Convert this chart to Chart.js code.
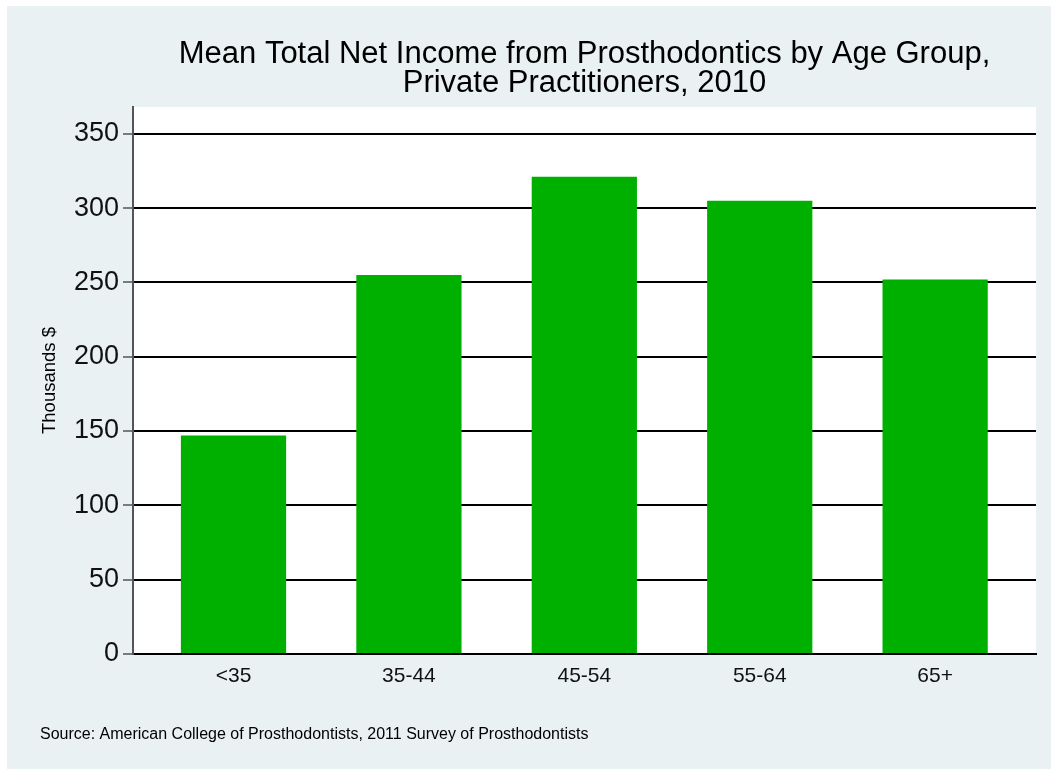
<!DOCTYPE html>
<html>
<head>
<meta charset="utf-8">
<script src="https://cdn.jsdelivr.net/npm/chart.js@4.4.0/dist/chart.umd.min.js"></script>
<style>
  html, body { margin: 0; background: #e9f1f3; }
  #incomeChart { position: absolute; left: 7px; top: 6px; }
  .edgeTop { position: absolute; left: 0; top: 0; width: 1051px; height: 6px; background: #fff; }
  .edgeLeft { position: absolute; left: 0; top: 0; width: 7px; height: 769px; background: #fff; }
</style>
</head>
<body>
<div class="edgeTop"></div>
<div class="edgeLeft"></div>
<canvas id="incomeChart" width="1044" height="763"></canvas>
<script>
const ageGroups = ['<35', '35-44', '45-54', '55-64', '65+'];
const meanIncome = [147, 255, 321, 305, 252];
const yTicks = [0, 50, 100, 150, 200, 250, 300, 350];
const titleLines = ['Mean Total Net Income from Prosthodontics by Age Group,', 'Private Practitioners, 2010'];
const yLabel = 'Thousands $';
const sourceNote = 'Source: American College of Prosthodontists, 2011 Survey of Prosthodontists';

const FONT = "'Liberation Sans', Arial, Helvetica, sans-serif";

// light blue graph region, white plot region
const backgroundPlugin = {
  id: 'backgrounds',
  beforeDraw(chart) {
    const ctx = chart.ctx;
    const a = chart.chartArea;
    ctx.save();
    ctx.fillStyle = '#e9f1f3';
    ctx.fillRect(0, 0, chart.width, chart.height);
    ctx.fillStyle = '#ffffff';
    ctx.fillRect(a.left, a.top, a.right - a.left, a.bottom - a.top);
    ctx.restore();
  }
};

new Chart(document.getElementById('incomeChart'), {
  type: 'bar',
  data: {
    datasets: [{
      label: 'Mean income',
      data: meanIncome.map((v, i) => ({x: i, y: v})),
      backgroundColor: 'rgb(0,176,0)',
      borderWidth: 0,
      barPercentage: 0.6,
      categoryPercentage: 1.0
    }]
  },
  options: {
    responsive: false,
    animation: false,
    devicePixelRatio: 1,
    layout: {padding: {left: 33, right: 15, top: 0, bottom: 0}},
    plugins: {
      legend: {display: false},
      tooltip: {enabled: false},
      title: {
        display: true,
        text: titleLines,
        fullSize: false,
        color: '#000',
        font: {family: FONT, size: 31, weight: 'normal', lineHeight: '29px'},
        padding: {top: 33.5, bottom: 9.5}
      },
      subtitle: {
        display: true,
        text: sourceNote,
        position: 'bottom',
        align: 'start',
        fullSize: true,
        color: '#000',
        font: {family: FONT, size: 16, weight: 'normal', lineHeight: '18px'},
        padding: {top: 32, bottom: 25}
      }
    },
    scales: {
      x: {
        type: 'linear',
        offset: false,
        min: -0.573,
        max: 4.575,
        afterBuildTicks: s => { s.ticks = ageGroups.map((g, i) => ({value: i})); },
        afterFit: s => { s.height = 40; },
        grid: {display: false, drawTicks: false},
        border: {display: true, color: '#000', width: 2},
        ticks: {
          callback: v => ageGroups[v],
          color: '#111',
          font: {family: FONT, size: 21},
          padding: 10,
          maxRotation: 0,
          autoSkip: false
        }
      },
      y: {
        min: 0,
        max: 368,
        afterBuildTicks: s => { s.ticks = yTicks.map(v => ({value: v})); },
        afterFit: s => { s.width = 93; },
        grid: {color: '#000', lineWidth: 2, tickLength: 10, tickColor: '#555', tickWidth: 1.5},
        border: {display: true, color: '#555', width: 2},
        ticks: {
          color: '#111',
          font: {family: FONT, size: 27},
          padding: 4
        },
        title: {
          display: true,
          text: yLabel,
          color: '#000',
          font: {family: FONT, size: 18.5, lineHeight: 1},
          padding: {top: 0.25, bottom: 0}
        }
      }
    }
  },
  plugins: [backgroundPlugin]
});
</script>
</body>
</html>
